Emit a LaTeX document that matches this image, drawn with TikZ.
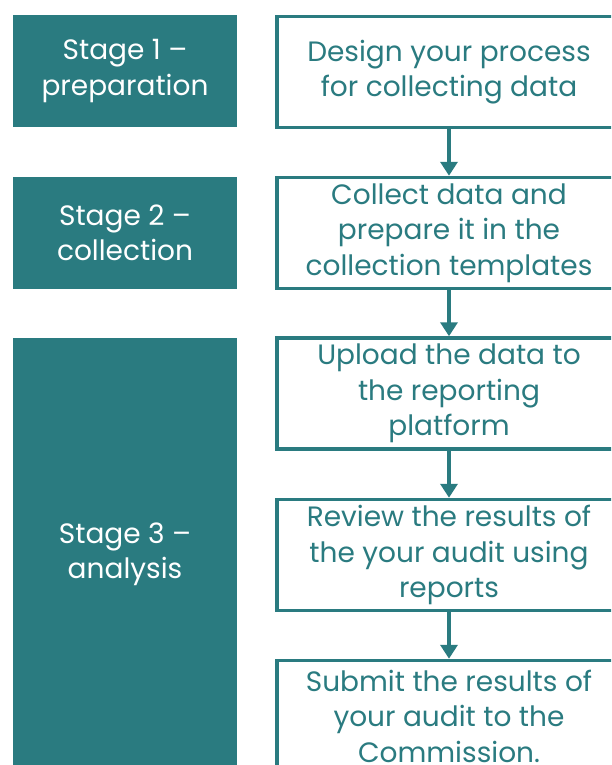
\documentclass[tikz,border=0pt]{standalone}
\usepackage{fontspec}
\setmainfont{Poppins}
\usetikzlibrary{arrows.meta}
\definecolor{tealc}{RGB}{42,123,128}
\begin{document}
\begin{tikzpicture}[x=1pt,y=-1pt,
  stagebox/.style={fill=tealc, draw=none, minimum width=224pt, inner sep=0pt,
    text=white, align=center, font=\fontsize{28}{35.5}\selectfont},
  stepbox/.style={draw=tealc, line width=3.5pt, fill=white, minimum width=344pt,
    minimum height=111pt, inner sep=0pt, text=tealc, align=center,
    font=\fontsize{28}{35.5}\selectfont},
  flow/.style={draw=tealc, line width=3.5pt, -{Triangle[length=14pt,width=17pt]}}]
\useasboundingbox (0,0) rectangle (611,765);
\begin{scope}
\clip (0,0) rectangle (611,765);
\node[stagebox, minimum height=112pt] (s1) at (125,71) {Stage 1 –\\preparation};
\node[stagebox, minimum height=112pt] (s2) at (125,233) {Stage 2 –\\collection};
\node[stagebox, minimum height=437pt] (s3) at (125,556.5) {};
\node[text=white, align=center, font=\fontsize{28}{35.5}\selectfont] (s3t) at (125,554.5) {Stage 3 –\\analysis};
\node[stepbox] (b1) at (449,72) {Design your process\\for collecting data};
\node[stepbox] (b2) at (449,233) {Collect data and\\prepare it in the\\collection templates};
\node[stepbox] (b3) at (449,393.5) {Upload the data to\\the reporting\\platform};
\node[stepbox] (b4) at (449,555) {Review the results of\\the your audit using\\reports};
\node[stepbox] (b5) at (449,716) {Submit the results of\\your audit to the\\Commission.};
\draw[flow] (b1) -- (b2);
\draw[flow] (b2) -- (b3);
\draw[flow] (b3) -- (b4);
\draw[flow] (b4) -- (b5);
\end{scope}
\end{tikzpicture}
\end{document}
